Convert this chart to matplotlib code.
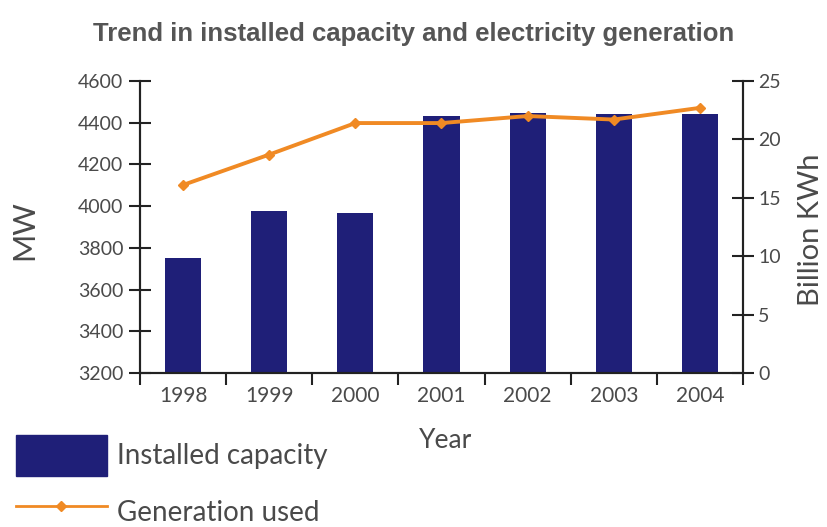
import matplotlib.pyplot as plt
from matplotlib.patches import Patch
from matplotlib.lines import Line2D

years = ["1998", "1999", "2000", "2001", "2002", "2003", "2004"]
capacity_mw = [3750, 3975, 3965, 4430, 4445, 4442, 4440]
generation_bkwh = [16.1, 18.7, 21.4, 21.4, 22.0, 21.7, 22.7]

navy = "#1f1f78"
orange = "#f08a24"
grey = "#4a4a4a"
dark = "#222222"

plt.rcParams["font.family"] = ["Lato", "DejaVu Sans"]

fig = plt.figure(figsize=(8.27, 5.27), dpi=100)
ax = fig.add_axes([0.1693, 0.2922, 0.7291, 0.5541])
ax2 = ax.twinx()

x = list(range(len(years)))
ax.bar(x, capacity_mw, width=0.42, color=navy, zorder=2)
ax2.plot(x, generation_bkwh, color=orange, lw=2.8, marker="D", ms=5,
         markerfacecolor=orange, markeredgecolor=orange)

ax.set_xlim(-0.5, 6.5)
ax.set_ylim(3200, 4600)
ax.set_yticks(range(3200, 4601, 200))
ax2.set_ylim(0, 25)
ax2.set_yticks(range(0, 26, 5))

# year labels centred under bars, tick marks between the categories
ax.set_xticks(x)
ax.set_xticklabels(years)
ax.set_xticks([i + 0.5 for i in range(-1, len(years))], minor=True)
ax.tick_params(axis="x", which="major", length=0, pad=9, labelsize=15, labelcolor=grey)
ax.tick_params(axis="x", which="minor", length=8.6, width=1.5, direction="out", color=dark)

ax.tick_params(axis="y", direction="inout", length=16, width=1.5, labelsize=14,
               labelcolor=grey, color=dark, pad=4)
ax2.tick_params(axis="y", direction="inout", length=16, width=1.5, labelsize=14,
                labelcolor=grey, color=dark, pad=3)

for a in (ax, ax2):
    a.spines["top"].set_visible(False)
    for s in ("left", "right", "bottom"):
        a.spines[s].set_linewidth(1.5)
        a.spines[s].set_color(dark)

ax.set_ylabel("MW", fontsize=22, color=grey)
ax.yaxis.set_label_coords(-0.169, 0.49)
ax2.set_ylabel("Billion KWh", fontsize=21, color=grey)
ax2.yaxis.set_label_coords(1.091, 0.49)
ax.set_xlabel("Year", fontsize=19, color=grey)
ax.xaxis.set_label_coords(0.507, -0.188)

fig.text(0.5, 0.935, "Trend in installed capacity and electricity generation",
         ha="center", va="center", fontsize=18.5, fontweight="bold", color="#555555",
         family=["Liberation Sans", "DejaVu Sans"])

handles = [
    Patch(facecolor=navy, edgecolor=navy),
    Line2D([], [], color=orange, lw=2, marker="D", ms=5,
           markerfacecolor=orange, markeredgecolor=orange),
]
leg = fig.legend(handles, ["Installed capacity", "Generation used"],
                 loc="upper left", bbox_to_anchor=(0.0193, 0.1746), frameon=False,
                 fontsize=20, handlelength=3.27, handleheight=1.89, numpoints=1,
                 labelspacing=0.55, handletextpad=0.36, borderaxespad=0.0, borderpad=0.0)
for t in leg.get_texts():
    t.set_color(grey)

fig.savefig("out.png", dpi=100)
